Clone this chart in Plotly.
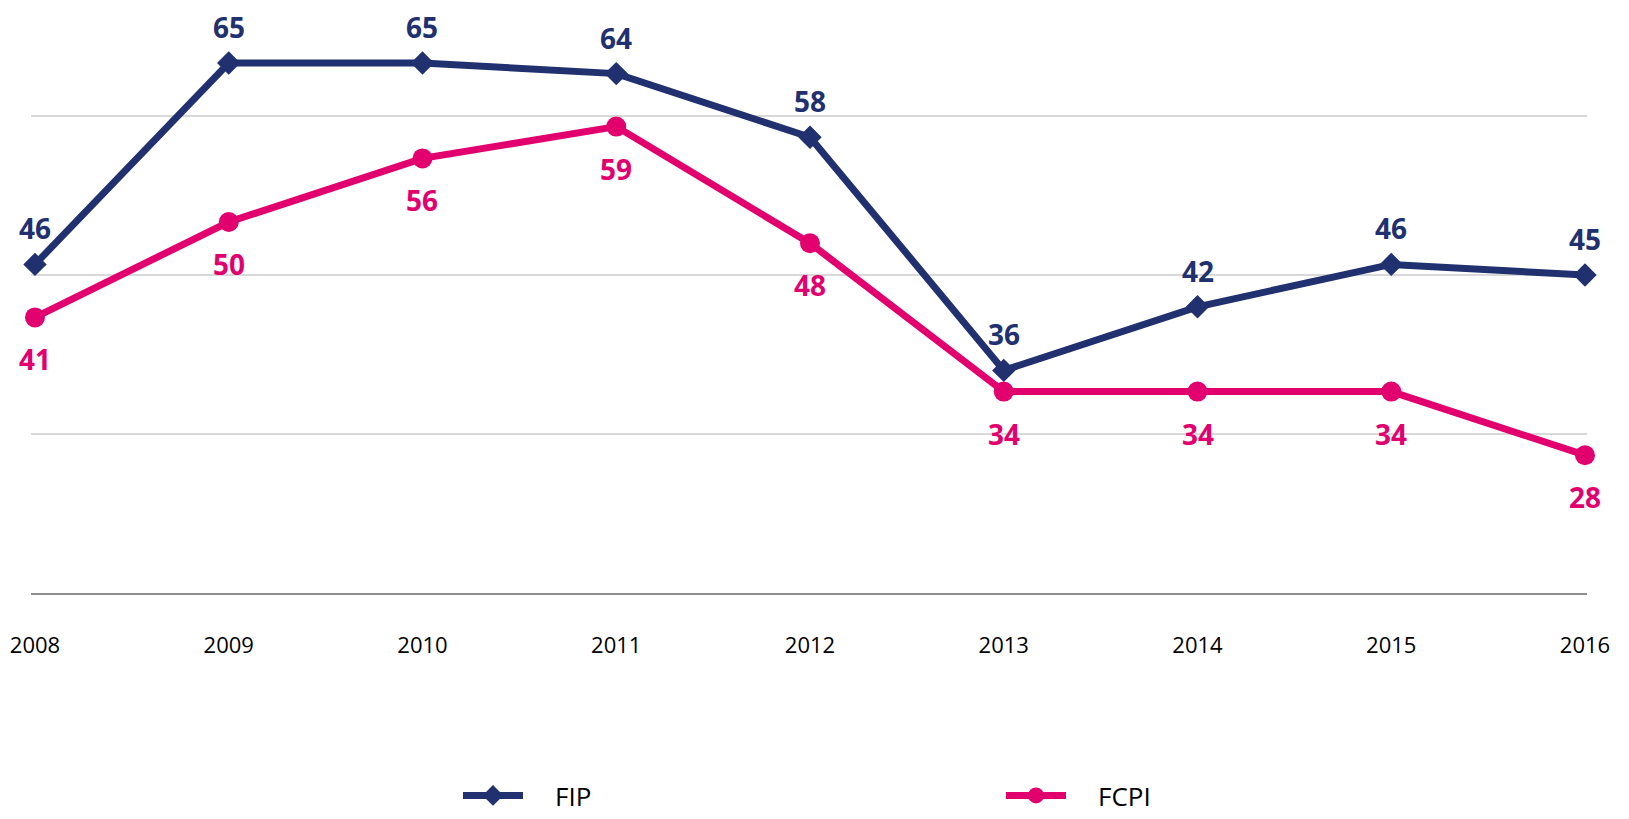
import plotly.graph_objects as go

years = ["2008", "2009", "2010", "2011", "2012", "2013", "2014", "2015", "2016"]
fip = [46, 65, 65, 64, 58, 36, 42, 46, 45]
fcpi = [41, 50, 56, 59, 48, 34, 34, 34, 28]
series_names = ["FIP", "FCPI"]

NAVY = "#21306F"
PINK = "#E2006F"
xs = list(range(len(years)))
PAD = "\u00a0" * 4

fig = go.Figure()
fig.add_trace(go.Scatter(
    x=xs, y=fip, name=PAD + series_names[0], mode="lines+markers",
    line=dict(color=NAVY, width=7),
    marker=dict(symbol="diamond", size=18, color=NAVY),
    cliponaxis=False,
))
fig.add_trace(go.Scatter(
    x=xs, y=fcpi, name=PAD + series_names[1], mode="lines+markers",
    line=dict(color=PINK, width=7),
    marker=dict(symbol="circle", size=20, color=PINK),
    cliponaxis=False,
))

annotations = []
for x, v in zip(xs, fip):
    annotations.append(dict(x=x, y=v, text=str(v), showarrow=False, yshift=36,
                            yanchor="middle", xanchor="center", borderpad=0,
                            font=dict(family="Open Sans", size=28, color=NAVY, weight="bold")))
for x, v in zip(xs, fcpi):
    annotations.append(dict(x=x, y=v, text=str(v), showarrow=False, yshift=-42,
                            yanchor="middle", xanchor="center", borderpad=0,
                            font=dict(family="Open Sans", size=28, color=PINK, weight="bold")))

fig.update_layout(
    width=1621, height=811,
    margin=dict(l=23, r=42, t=2, b=226),
    paper_bgcolor="white", plot_bgcolor="white",
    annotations=annotations,
    showlegend=True,
    legend=dict(orientation="h", xref="container", yref="container",
                x=0.2776, y=-0.005, xanchor="left", yanchor="bottom",
                entrywidth=468, entrywidthmode="pixels", itemwidth=60,
                font=dict(family="Open Sans", size=26, color="#000000")),
    xaxis=dict(range=[-0.0206, 8.0103], tickmode="array", tickvals=xs, ticktext=years,
               showgrid=False, zeroline=False, showline=True, linecolor="#8c8c8c", linewidth=2,
               ticks="", ticklabelstandoff=32,
               tickfont=dict(family="Open Sans", size=22, color="#000000")),
    yaxis=dict(range=[15, 70], tick0=0, dtick=15, showticklabels=False,
               showgrid=True, gridcolor="#d9d9d9", gridwidth=2, zeroline=False, showline=False),
)

fig.write_html("out.html")
